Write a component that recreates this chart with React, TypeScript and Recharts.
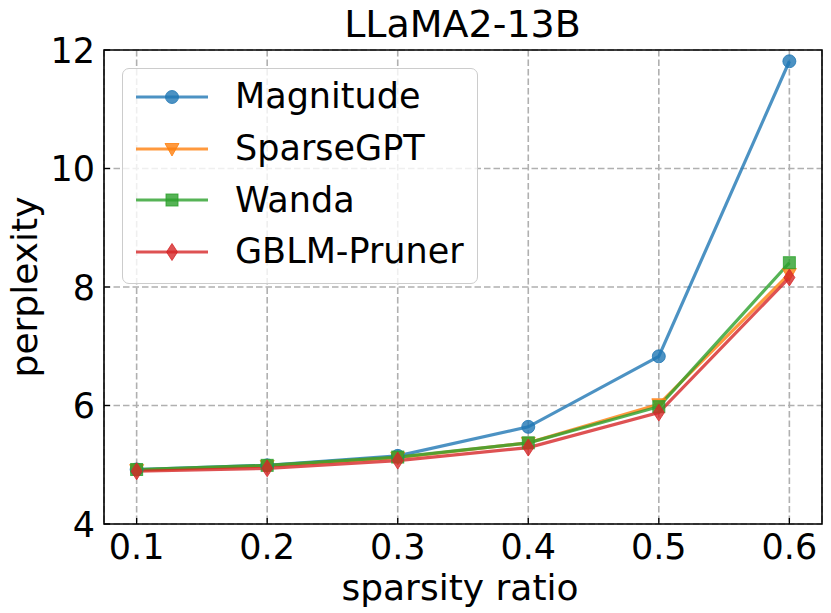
import React from 'react';
import { LineChart, Line, XAxis, YAxis, CartesianGrid, ReferenceArea } from 'recharts';

const sparsity = [0.1, 0.2, 0.3, 0.4, 0.5, 0.6];
const magnitude = [4.92, 4.99, 5.15, 5.64, 6.83, 11.81];
const sparseGPT = [4.91, 4.98, 5.12, 5.37, 6.02, 8.22];
const wanda = [4.92, 4.99, 5.13, 5.37, 5.98, 8.41];
const gblm = [4.89, 4.94, 5.07, 5.29, 5.88, 8.16];
const xTicks = [0.1, 0.2, 0.3, 0.4, 0.5, 0.6];
const yTicks = [4, 6, 8, 10, 12];
const seriesNames = ['Magnitude', 'SparseGPT', 'Wanda', 'GBLM-Pruner'];

const data = sparsity.map((s, i) => ({
  s,
  magnitude: magnitude[i],
  sparseGPT: sparseGPT[i],
  wanda: wanda[i],
  gblm: gblm[i],
}));

const FONT = '"DejaVu Sans", sans-serif';
const FS_TICK = 35;
const FS_LEG = 35;
const FS_LABEL = 36;
const FS_TITLE = 38;
const ALPHA = 0.8;

type Kind = 'circle' | 'tri' | 'square' | 'diamond';

const series: { key: string; name: string; color: string; kind: Kind }[] = [
  { key: 'magnitude', name: seriesNames[0], color: '#1f77b4', kind: 'circle' },
  { key: 'sparseGPT', name: seriesNames[1], color: '#ff7f0e', kind: 'tri' },
  { key: 'wanda', name: seriesNames[2], color: '#2ca02c', kind: 'square' },
  { key: 'gblm', name: seriesNames[3], color: '#d62728', kind: 'diamond' },
];

function marker(kind: Kind, cx: number, cy: number, color: string, key?: string) {
  const common = { fill: color, fillOpacity: ALPHA, stroke: color, strokeOpacity: ALPHA, strokeWidth: 1 };
  if (kind === 'circle') return <circle key={key} cx={cx} cy={cy} r={6.5} {...common} />;
  if (kind === 'square') return <rect key={key} x={cx - 6} y={cy - 6} width={12} height={12} {...common} />;
  if (kind === 'tri')
    return <polygon key={key} points={`${cx - 7},${cy - 5.5} ${cx + 7},${cy - 5.5} ${cx},${cy + 7}`} {...common} />;
  return <polygon key={key} points={`${cx},${cy - 8.5} ${cx + 5.5},${cy} ${cx},${cy + 8.5} ${cx - 5.5},${cy}`} {...common} />;
}

const YTick = (props: any) => {
  const { x, y, payload } = props;
  return (
    <g>
      <line x1={x} x2={x + 6} y1={y} y2={y} stroke="#000" strokeWidth={1.3} />
      <text x={x - 9} y={y} dy={12.5} textAnchor="end" fontSize={FS_TICK} fontFamily={FONT} fill="#000">
        {payload.value}
      </text>
    </g>
  );
};

const XTick = (props: any) => {
  const { x, y, payload } = props;
  return (
    <g>
      <line x1={x} x2={x} y1={y} y2={y - 6} stroke="#000" strokeWidth={1.3} />
      <text x={x} y={y + 35} textAnchor="middle" fontSize={FS_TICK} fontFamily={FONT} fill="#000">
        {payload.value}
      </text>
    </g>
  );
};

const LegendBox = () => (
  <div
    style={{
      position: 'absolute',
      left: 122,
      top: 68,
      width: 356,
      height: 216,
      boxSizing: 'border-box',
      border: '1.5px solid #cccccc',
      borderRadius: 7,
      background: 'rgba(255,255,255,0.8)',
      paddingTop: 2,
      pointerEvents: 'none',
    }}
  >
    {series.map((s) => (
      <div key={s.key} style={{ height: 51.7, display: 'flex', alignItems: 'center' }}>
        <svg width={100} height={24} style={{ marginLeft: 12, flex: 'none' }}>
          <line x1={1} x2={73} y1={12} y2={12} stroke={s.color} strokeOpacity={ALPHA} strokeWidth={3.2} />
          {marker(s.kind, 37, 12, s.color)}
        </svg>
        <span style={{ fontFamily: FONT, fontSize: FS_LEG, color: '#000', lineHeight: 1 }}>{s.name}</span>
      </div>
    ))}
  </div>
);

export default function App() {
  return (
    <div style={{ position: 'absolute', left: 0, top: 0, width: 831, height: 613, background: '#fff' }}>
      <LineChart width={831} height={613} data={data} margin={{ top: 50, right: 9, bottom: 0, left: 0 }}>
        <CartesianGrid stroke="#b0b0b0" strokeDasharray="6.5 3" strokeWidth={1.6} />
        <XAxis
          dataKey="s"
          type="number"
          domain={[0.075, 0.625]}
          ticks={xTicks}
          allowDataOverflow
          height={89}
          axisLine={false}
          tickLine={false}
          tickSize={0}
          tickMargin={0}
          tick={<XTick />}
          interval={0}
        />
        <YAxis
          type="number"
          domain={[4, 12]}
          ticks={yTicks}
          allowDataOverflow
          width={104}
          axisLine={false}
          tickLine={false}
          tickSize={0}
          tickMargin={0}
          tick={<YTick />}
          interval={0}
        />
        {series.map((s) => (
          <Line
            key={s.key}
            dataKey={s.key}
            name={s.name}
            stroke={s.color}
            strokeOpacity={ALPHA}
            strokeWidth={3.2}
            isAnimationActive={false}
            dot={(p: any) => marker(s.kind, p.cx, p.cy, s.color, `${s.key}-${p.index}`)}
            activeDot={false}
          />
        ))}
        <ReferenceArea x1={0.075} x2={0.625} y1={4} y2={12} fill="none" stroke="#000" strokeWidth={1.6} ifOverflow="visible" />
      </LineChart>
      <LegendBox />
      <svg width={831} height={613} style={{ position: 'absolute', left: 0, top: 0, pointerEvents: 'none' }}>
        <text x={462.5} y={37} textAnchor="middle" fontSize={FS_TITLE} fontFamily={FONT} fill="#000">
          LLaMA2-13B
        </text>
        <text x={460} y={600} textAnchor="middle" fontSize={FS_LABEL} fontFamily={FONT} fill="#000">
          sparsity ratio
        </text>
        <text x={37} y={287} textAnchor="middle" fontSize={FS_LABEL} fontFamily={FONT} fill="#000" transform="rotate(-90, 37, 287)">
          perplexity
        </text>
      </svg>
    </div>
  );
}
